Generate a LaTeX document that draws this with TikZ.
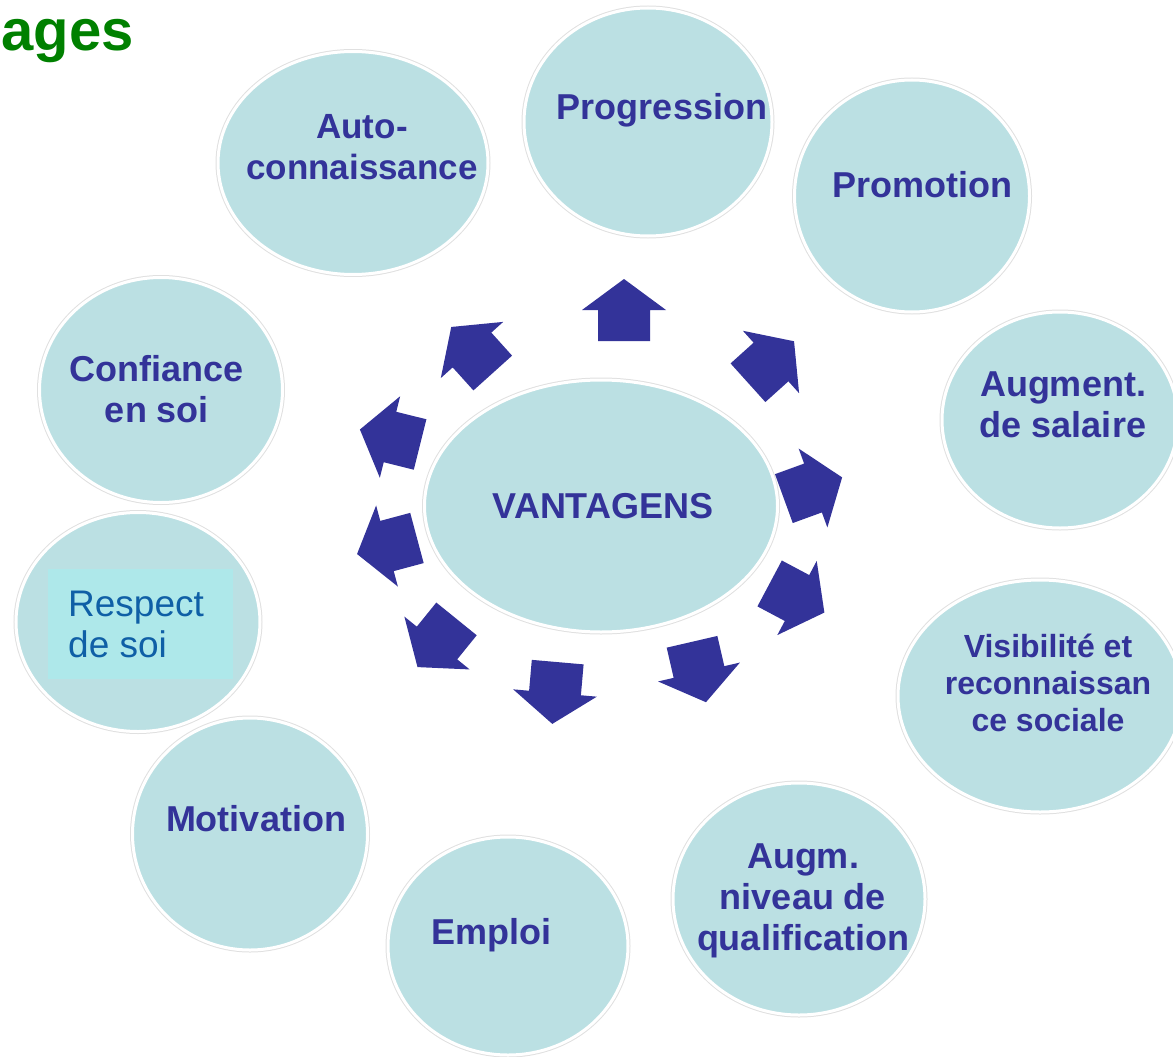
\documentclass[tikz,border=0pt]{standalone}
\usepackage{fontspec}
\setmainfont{Liberation Sans}
\usepackage{tikz}
\usetikzlibrary{shapes.geometric, positioning}

\definecolor{bubblefill}{HTML}{BBE0E3}
\definecolor{navyblue}{HTML}{333399}
\definecolor{boxfill}{HTML}{AEE8EA}
\definecolor{softblue}{HTML}{0F5FA6}
\definecolor{titlegreen}{HTML}{008000}

\begin{document}
\begin{tikzpicture}[
    x=1pt, y=-1pt,
    bubble/.style={ellipse, fill=bubblefill, draw=white, line width=3pt,
        preaction={draw=black!12, line width=5pt}, inner sep=0pt},
    lbl/.style={font=\fontsize{36}{41}\selectfont\bfseries, text=navyblue,
        align=center, inner sep=0pt},
    blockarrow/.style={fill=navyblue}
]
    \path[use as bounding box, clip] (0,0) rectangle (1173,1057);

    % title
    \node[font=\fontsize{58}{64}\selectfont\bfseries, text=titlegreen,
        anchor=base east, inner sep=0pt] (title) at (134,51) {ages};

    % outer bubbles
    \node[bubble, minimum width=270, minimum height=223] (auto) at (353,163) {};
    \node[lbl, font=\fontsize{35}{41}\selectfont\bfseries] at (362,147) {Auto-\\connaissance};

    \node[bubble, minimum width=248, minimum height=228] (prog) at (648,122) {};
    \node[lbl] at (662,110) {Progression};

    \node[bubble, minimum width=235, minimum height=232] (promo) at (912,196) {};
    \node[lbl] at (922,185) {Promotion};

    \node[bubble, minimum width=236, minimum height=216] (salaire) at (1060,420) {};
    \node[lbl] at (1063,405) {Augment.\\de salaire};

    \node[bubble, minimum width=284, minimum height=232] (visib) at (1040,696) {};
    \node[lbl, font=\fontsize{32}{37}\selectfont\bfseries] at (1048,683)
        {Visibilité et\\reconnaissan\\ce sociale};

    \node[bubble, minimum width=252, minimum height=232] (qualif) at (799,899) {};
    \node[lbl] at (803,901) {Augm.\\niveau de\\qualification};

    \node[bubble, minimum width=240, minimum height=218] (emploi) at (508,946) {};
    \node[lbl] at (491,935) {Emploi};

    \node[bubble, minimum width=244, minimum height=219] (respect) at (138,622) {};
    \node[fill=boxfill, minimum width=185, minimum height=110, inner sep=0pt]
        (respbox) at (140.5,624) {};
    \node[font=\fontsize{37}{41}\selectfont, text=softblue, align=left,
        inner sep=0pt, anchor=west] at (68,624) {Respect\\de soi};

    \node[bubble, minimum width=235, minimum height=232] (motiv) at (250,834) {};
    \node[lbl] at (256,819) {Motivation};

    \node[bubble, minimum width=243, minimum height=225] (confiance) at (161,390) {};
    \node[lbl] at (157,389) {Confiance\\en soi};

    % centre
    \node[bubble, minimum width=353, minimum height=252] (vantagens) at (601,506) {};
    \node[lbl] at (603,506) {VANTAGENS};

    % arrows round the centre
    \foreach \cx/\cy/\ang in {624/310/90, 472/350/132, 771/362/42,
        390/437/166, 813/488/20, 387/546/195, 797/598/-28,
        437/643/231, 555/693/265, 699/672/-77}
    {
        \begin{scope}[shift={(\cx,\cy)}, rotate=\ang]
            \fill[blockarrow] (-31,-26) -- (0,-26) -- (0,-42) -- (31,0)
                -- (0,42) -- (0,26) -- (-31,26) -- cycle;
        \end{scope}
    }
\end{tikzpicture}
\end{document}
